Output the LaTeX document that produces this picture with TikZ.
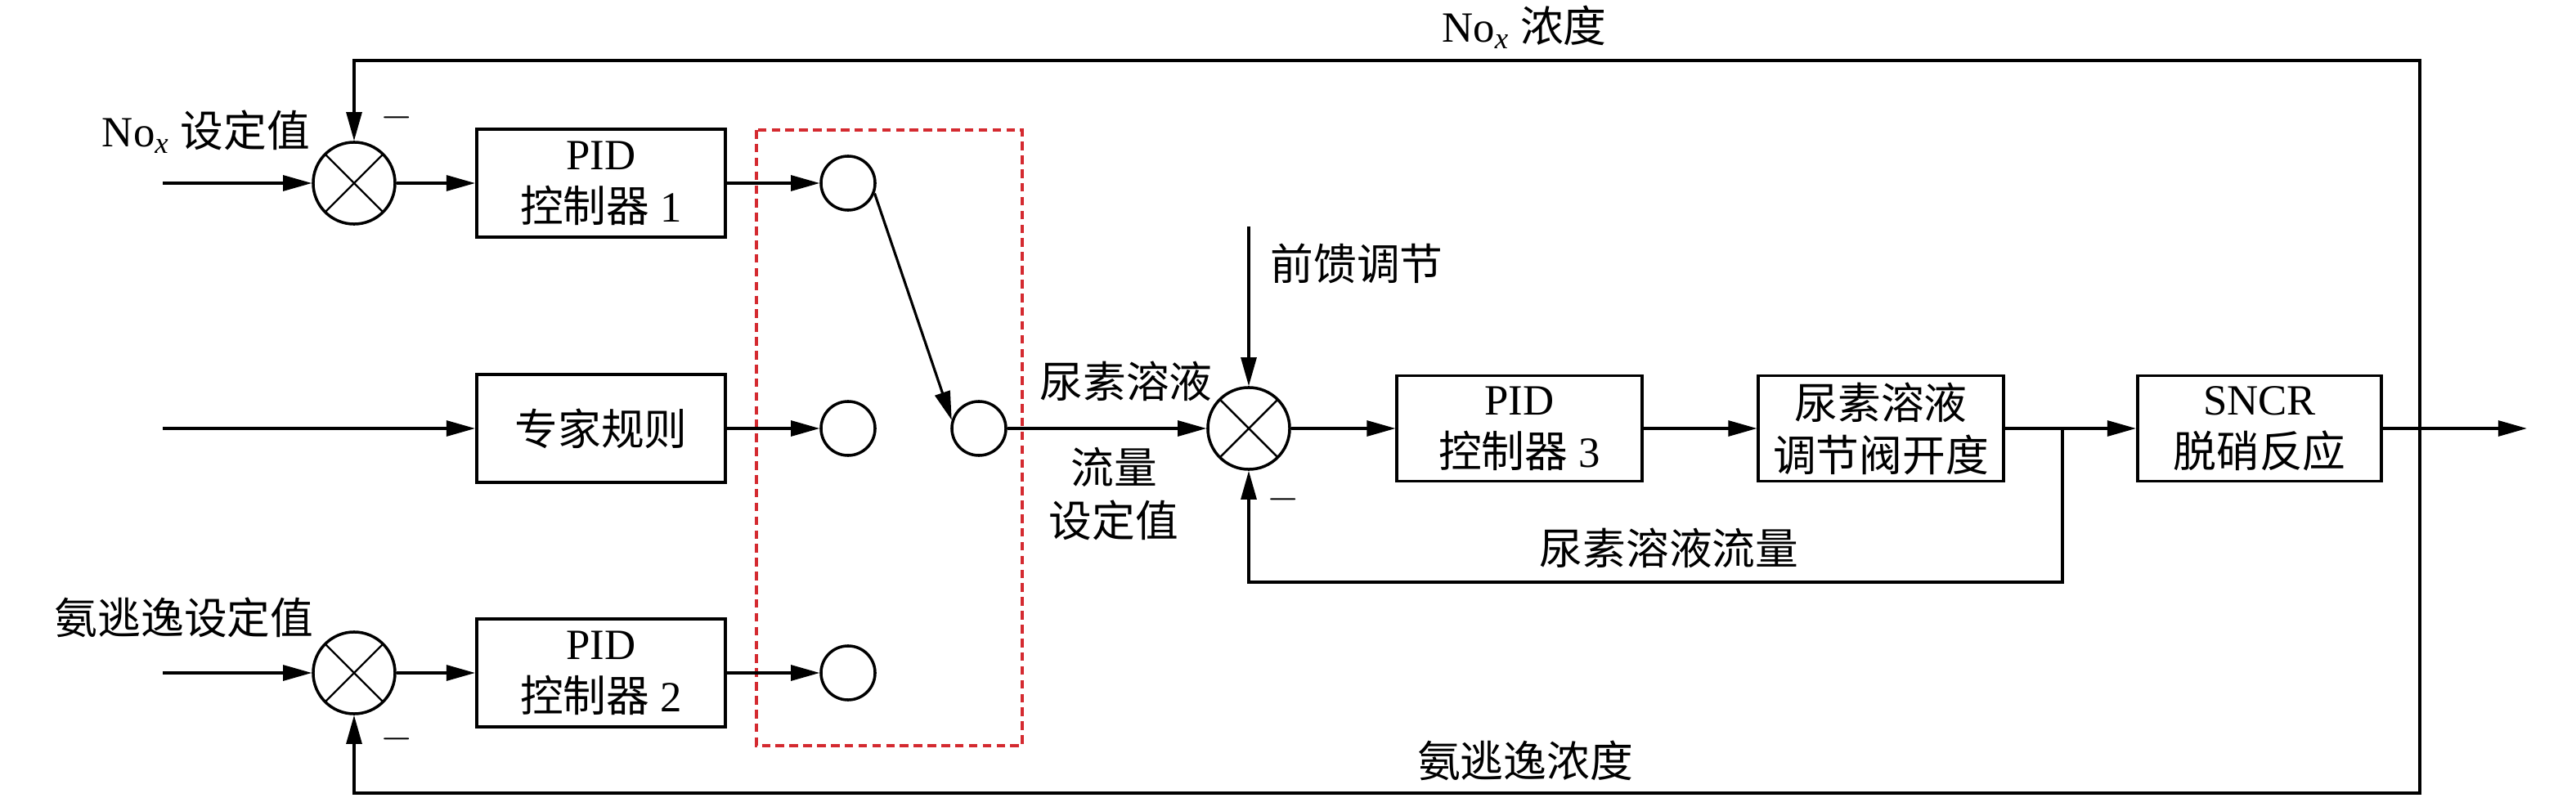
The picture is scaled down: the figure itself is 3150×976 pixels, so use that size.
\documentclass[tikz,border=0pt]{standalone}
\usepackage{fontspec}
\setmainfont{Liberation Serif}
\newfontfamily\cjk{Noto Sans CJK SC}
\usetikzlibrary{arrows.meta,positioning}
\definecolor{dashred}{HTML}{D42A30}
\tikzset{
  blk/.style={draw, line width=1.1pt, minimum width=3.04cm, minimum height=1.32cm,
    inner sep=0pt, align=center},
  rblk/.style={blk, minimum width=2.99cm, minimum height=1.29cm},
  sumnode/.style={circle, draw, line width=1pt, minimum size=1.0cm, inner sep=0pt,
    path picture={\draw[line width=0.7pt]
      (path picture bounding box.north west) -- (path picture bounding box.south east)
      (path picture bounding box.north east) -- (path picture bounding box.south west);}},
  swnode/.style={circle, draw, line width=1pt, minimum size=0.66cm, inner sep=0pt},
  link/.style={line width=0.9pt},
  arr/.style={link, -{Triangle[length=10pt,width=5.4pt]}},
  lbl/.style={inner sep=0pt},
  redbox/.style={draw=dashred, line width=1pt, dash pattern=on 3pt off 1.8pt},
}
\newcommand{\NOx}{No\textsubscript{\textit{x}}}
\begin{document}
\begin{tikzpicture}[x=0.01cm, y=-0.01cm, font=\fontsize{15pt}{18.2pt}\selectfont]
  \useasboundingbox (0,0) rectangle (3150,976);
  % left column: set points, comparators, controllers
  \coordinate (in1) at (199,224);
  \coordinate (in2) at (199,524);
  \coordinate (in3) at (199,823);
  \node[sumnode] (S1) at (433,224) {};
  \node[sumnode] (S2) at (433,823) {};
  \node[blk] (P1) at (735,224) {PID\\{\cjk 控制器} 1};
  \node[blk] (E) at (735,524) {\cjk 专家规则};
  \node[blk] (P2) at (735,823) {PID\\{\cjk 控制器} 2};
  \node[lbl, anchor=base] (lnox) at (252,180) {\NOx\ {\cjk 设定值}};
  \node[lbl, anchor=base] (lnh3) at (225,775) {\cjk 氨逃逸设定值};
  \node[lbl] (m1) at (485,144) {$-$};
  \node[lbl] (m2) at (485,904) {$-$};
  \draw[arr] (in1) -- (S1);
  \draw[arr] (in2) -- (E);
  \draw[arr] (in3) -- (S2);
  \draw[arr] (S1) -- (P1);
  \draw[arr] (S2) -- (P2);
  % switch
  \draw[redbox] (925,159) rectangle (1250,912);
  \node[swnode] (c1) at (1037,224) {};
  \node[swnode] (c2) at (1037,524) {};
  \node[swnode] (c3) at (1037,823) {};
  \node[swnode] (cm) at (1197,524) {};
  \draw[arr] (P1) -- (c1);
  \draw[arr] (E) -- (c2);
  \draw[arr] (P2) -- (c3);
  \draw[arr] (c1.-21) -- (cm.163);
  % urea flow loop
  \node[sumnode] (S3) at (1527,524) {};
  \node[rblk] (P3) at (1858,524) {PID\\{\cjk 控制器} 3};
  \node[rblk] (V) at (2300,524) {\cjk 尿素溶液\\\cjk 调节阀开度};
  \node[rblk, minimum width=2.98cm] (R) at (2763,524) {SNCR\\{\cjk 脱硝反应}};
  \coordinate (ff) at (1527,277);
  \coordinate (br) at (2522,524);
  \coordinate (brd) at (2522,712);
  \coordinate (out) at (3090,524);
  \node[lbl, anchor=base west] (lff) at (1553,343) {\cjk 前馈调节};
  \node[lbl, anchor=base] (lset1) at (1377,486) {\cjk 尿素溶液};
  \node[lbl, align=center, font=\fontsize{15pt}{18.7pt}\selectfont] (lset2) at (1362,604) {\cjk 流量\\\cjk 设定值};
  \node[lbl, anchor=base] (lflow) at (2041,690) {\cjk 尿素溶液流量};
  \node[lbl] (m3) at (1569,611) {$-$};
  \draw[arr] (cm) -- (S3);
  \draw[arr] (ff) -- (S3);
  \draw[arr] (S3) -- (P3);
  \draw[arr] (P3) -- (V);
  \draw[arr] (V) -- (R);
  \draw[arr] (R) -- (out);
  \draw[arr] (br) -- (brd) -| (S3.south);
  % outer feedback
  \coordinate (tr) at (2959,524);
  \coordinate (trt) at (2959,74);
  \coordinate (trb) at (2959,970);
  \node[lbl, anchor=base] (lnoxc) at (1864,52) {\NOx\ {\cjk 浓度}};
  \node[lbl, anchor=base] (lnh3c) at (1865,950) {\cjk 氨逃逸浓度};
  \draw[arr] (tr) -- (trt) -| (S1.north);
  \draw[arr] (tr) -- (trb) -| (S2.south);
\end{tikzpicture}
\end{document}
